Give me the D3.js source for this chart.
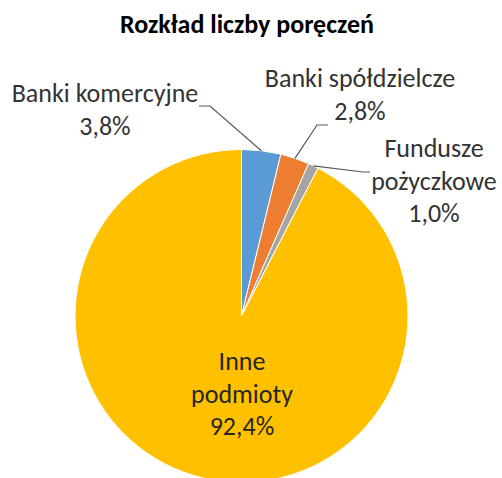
<!DOCTYPE html>
<html>
<head>
<meta charset="utf-8">
<script src="https://cdn.jsdelivr.net/npm/d3@7"></script>
<style>
  body { margin: 0; background: #fff; }
  svg text { font-family: Carlito, Calibri, "Open Sans", sans-serif; fill: #404040; }
</style>
</head>
<body>
<svg id="chart" width="502" height="478"></svg>
<script>
const categories = ['Banki komercyjne', 'Banki spółdzielcze', 'Fundusze pożyczkowe', 'Inne podmioty'];
const shares = [3.8, 2.8, 1.0, 92.4];
const colors = ['#5B9BD5', '#ED7D31', '#A5A5A5', '#FFC000'];
const title = 'Rozkład liczby poręczeń';

// rozmieszczenie etykiet (linie tekstu, środek, linia bazowa pierwszego wiersza, łamanie linii odnośnika)
const labelLayout = [
  { lines: ['Banki komercyjne'], x: 105, y: 102, elbow: [210, 106], end: [199, 106] },
  { lines: ['Banki spółdzielcze'], x: 360, y: 87, elbow: [317, 125], end: [328, 125] },
  { lines: ['Fundusze', 'pożyczkowe'], x: 434, y: 157, elbow: [363, 172], end: [370, 172] },
  { lines: ['Inne', 'podmioty'], x: 242, y: 370, inside: true }
];

const cx = 241.5, cy = 316, radius = 166.5, lineStep = 32.5;
const fmt = v => d3.format('.1f')(v).replace('.', ',') + '%';

const svg = d3.select('#chart');

svg.append('text')
  .attr('x', 247)
  .attr('y', 33)
  .attr('text-anchor', 'middle')
  .style('font-weight', 'bold')
  .style('font-size', '26px')
  .style('fill', '#000')
  .text(title);

const pie = d3.pie().sort(null).value(d => d)(shares);
const arc = d3.arc().innerRadius(0).outerRadius(radius);
const edge = d3.arc().innerRadius(radius).outerRadius(radius);

const g = svg.append('g').attr('transform', `translate(${cx},${cy})`);

g.selectAll('path')
  .data(pie)
  .enter()
  .append('path')
  .attr('d', arc)
  .attr('fill', (d, i) => colors[i])
  .attr('stroke', '#fff')
  .attr('stroke-width', 1);

// linie odnośników
pie.forEach((d, i) => {
  const lay = labelLayout[i];
  if (lay.inside) return;
  const c = edge.centroid(d);
  svg.append('polyline')
    .attr('points', [[c[0] + cx, c[1] + cy], lay.elbow, lay.end].map(p => p.join(',')).join(' '))
    .attr('fill', 'none')
    .attr('stroke', '#595959')
    .attr('stroke-width', 1.2);
});

// etykiety
labelLayout.forEach((lay, i) => {
  const rows = lay.lines.concat([fmt(shares[i])]);
  const t = svg.append('text')
    .attr('text-anchor', 'middle')
    .style('font-size', '26px')
    .style('fill', lay.inside ? '#262626' : '#333');
  rows.forEach((r, k) => {
    t.append('tspan')
      .attr('x', lay.x)
      .attr('y', lay.y + k * lineStep)
      .text(r);
  });
});
</script>
</body>
</html>
